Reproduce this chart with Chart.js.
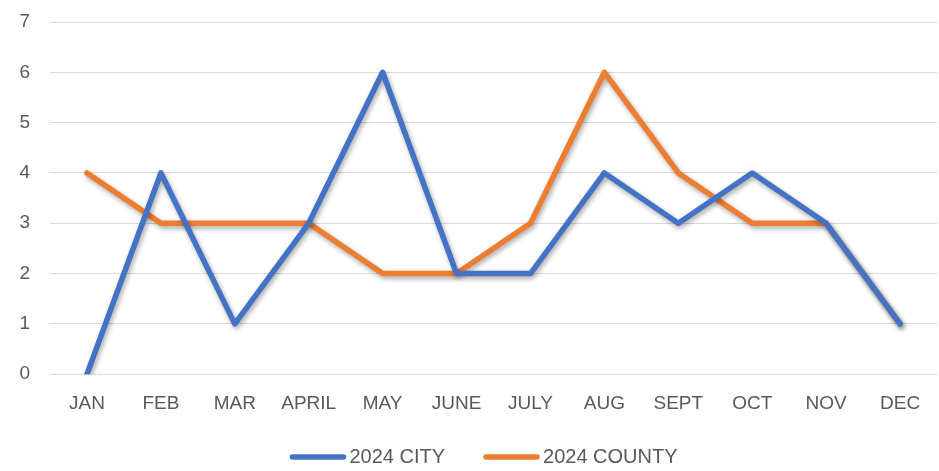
<!DOCTYPE html>
<html><head><meta charset="utf-8">
<script src="https://cdn.jsdelivr.net/npm/chart.js@4/dist/chart.umd.min.js"></script>
<style>html,body{margin:0;padding:0;background:#fff}canvas{display:block}</style>
</head><body>
<canvas id="c" width="939" height="471"></canvas>
<script>
const months = ["JAN","FEB","MAR","APRIL","MAY","JUNE","JULY","AUG","SEPT","OCT","NOV","DEC"];
const city2024 = [0,4,1,3,6,2,2,4,3,4,3,1];
const county2024 = [4,3,3,3,2,2,3,6,4,3,3,1];
const yTicks = [0,1,2,3,4,5,6,7];

const FONT = "'Liberation Sans', Arial, sans-serif";
const shadowPlugin = {
  id: 'shadow',
  beforeDatasetsDraw(chart){ const c=chart.ctx; c.save(); c.shadowColor='rgba(0,0,0,0.35)'; c.shadowBlur=5; c.shadowOffsetX=1.5; c.shadowOffsetY=2.5; },
  afterDatasetsDraw(chart){ chart.ctx.restore(); }
};

// Legend drawn from the chart's own datasets (line swatch + label, Excel style)
const legendPlugin = {
  id: 'xlLegend',
  afterDraw(chart){
    const ctx = chart.ctx;
    const lineW = 57, gapText = 3, gapItem = 38, y = 457;
    ctx.save();
    ctx.font = "20px " + FONT;
    const items = chart.data.datasets.map(ds => ({ds, w: lineW + gapText + ctx.measureText(ds.label).width}));
    const total = items.reduce((s,it)=>s+it.w,0) + gapItem*(items.length-1);
    const cx = (chart.chartArea.left + chart.chartArea.right)/2 - 10;
    let x = cx - total/2;
    items.forEach(it => {
      ctx.strokeStyle = it.ds.borderColor; ctx.lineWidth = 5.5; ctx.lineCap = 'round';
      ctx.beginPath(); ctx.moveTo(x + 3, y); ctx.lineTo(x + lineW - 3, y); ctx.stroke();
      ctx.fillStyle = '#595959'; ctx.textBaseline = 'middle'; ctx.textAlign = 'left';
      ctx.fillText(it.ds.label, x + lineW + gapText, y);
      x += it.w + gapItem;
    });
    ctx.restore();
  }
};

new Chart(document.getElementById('c'), {
  type: 'line',
  data: {
    labels: months,
    datasets: [
      {label:'2024 CITY', data: city2024, borderColor:'#4472C4', backgroundColor:'#4472C4', borderWidth:5.5, pointRadius:0, tension:0, borderCapStyle:'round', borderJoinStyle:'round', fill:false},
      {label:'2024 COUNTY', data: county2024, borderColor:'#ED7D31', backgroundColor:'#ED7D31', borderWidth:5.5, pointRadius:0, tension:0, borderCapStyle:'round', borderJoinStyle:'round', fill:false}
    ]
  },
  options: {
    responsive:false, animation:false, devicePixelRatio:1,
    layout:{padding:{top:22,right:2,left:0,bottom:38}},
    plugins:{
      tooltip:{enabled:false},
      legend:{display:false}
    },
    scales:{
      x:{offset:true, grid:{display:false, drawTicks:false}, border:{display:false},
         ticks:{color:'#595959', padding:18, font:{family:FONT,size:19}, maxRotation:0, autoSkip:false}},
      y:{min:0,max:7, afterBuildTicks(ax){ax.ticks=yTicks.map(v=>({value:v}));},
         afterFit(ax){ax.width=50; ax.paddingTop=0; ax.paddingBottom=0;},
         grid:{color:'#D9D9D9', lineWidth:1, drawTicks:false}, border:{display:false},
         ticks:{color:'#595959', padding:20, font:{family:FONT,size:19, lineHeight:1}}}
    }
  },
  plugins:[shadowPlugin, legendPlugin]
});
</script>
</body></html>
